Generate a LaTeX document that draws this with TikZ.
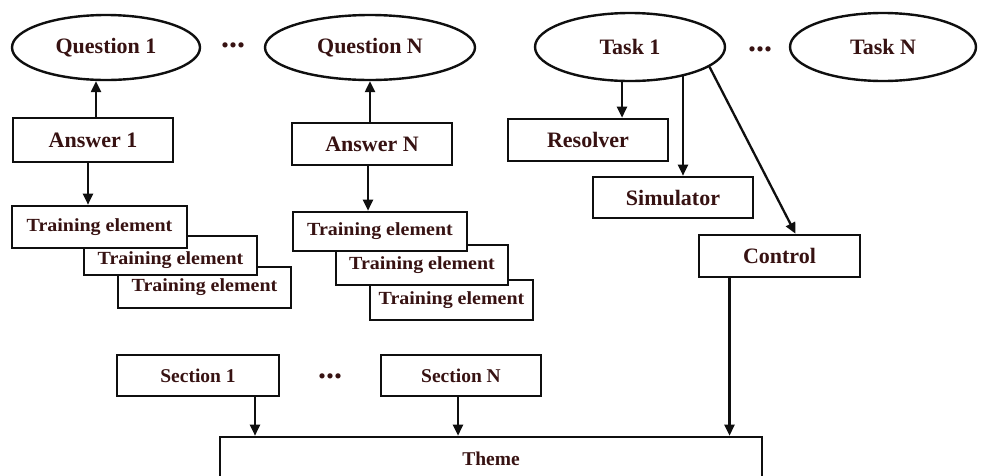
\documentclass[tikz,border=0pt]{standalone}
\usepackage{fontspec}
\setmainfont{Liberation Serif}
\newfontfamily\tefont[FakeStretch=1.08]{Liberation Serif}
\usetikzlibrary{shapes.geometric,arrows.meta}
\definecolor{txt}{RGB}{55,18,18}
\definecolor{ln}{RGB}{15,15,15}
\tikzset{
  ell/.style={ellipse,draw=ln,line width=2.4pt,inner sep=0pt,text=txt,font=\fontsize{22}{26}\selectfont\bfseries},
  bx/.style={rectangle,draw=ln,line width=2.6pt,fill=white,inner sep=0pt,text=txt,font=\fontsize{22}{26}\selectfont\bfseries},
  tbx/.style={bx,font=\tefont\fontsize{18.5}{22}\selectfont\bfseries},
  sbx/.style={bx,font=\fontsize{19.5}{22}\selectfont\bfseries},
  dots/.style={inner sep=0pt,text=txt,font=\fontsize{32}{32}\selectfont\bfseries},
  arr/.style={draw=ln,line width=2.3pt,-{Triangle[length=11pt,width=10pt]}}
}
\begin{document}
\begin{tikzpicture}[x=1pt,y=-1pt]
\clip (0,0) rectangle (981,475);
\fill[white] (0,0) rectangle (981,475);
% ellipses
\node[ell,minimum width=188pt,minimum height=65pt] (q1) at (106,47.5) {Question 1};
\node[dots] (d1) at (233,45) {...};
\node[ell,minimum width=210pt,minimum height=65pt] (qn) at (370,47.5) {Question N};
\node[ell,minimum width=190pt,minimum height=68pt] (t1) at (630,47) {Task 1};
\node[dots] (d2) at (760,49) {...};
\node[ell,minimum width=186pt,minimum height=68pt] (tn) at (883,47) {Task N};
% answers
\node[bx,minimum width=160pt,minimum height=44pt] (a1) at (93,140) {Answer 1};
\node[bx,minimum width=160pt,minimum height=42pt] (an) at (372,144) {Answer N};
% task children
\node[bx,minimum width=160pt,minimum height=42pt] (res) at (588,140) {Resolver};
\node[bx,minimum width=160pt,minimum height=41pt] (sim) at (673,197.5) {Simulator};
\node[bx,minimum width=161pt,minimum height=42pt] (ctl) at (779.5,256) {Control};
% training elements (left)
\node[tbx,minimum width=173pt,minimum height=41pt] (tl3) at (204.5,287.5) {Training element};
\node[tbx,minimum width=173pt,minimum height=39pt,text height=21pt,text depth=3pt] (tl2) at (170.5,255.5) {Training element};
\node[tbx,minimum width=175pt,minimum height=42pt] (tl1) at (99.5,227) {Training element};
% training elements (right)
\node[tbx,minimum width=163pt,minimum height=40pt] (tr3) at (451.5,300) {Training element};
\node[tbx,minimum width=172pt,minimum height=40pt] (tr2) at (422,265) {Training element};
\node[tbx,minimum width=174pt,minimum height=39pt] (tr1) at (380,231.5) {Training element};
% sections and theme
\node[sbx,minimum width=162pt,minimum height=41pt] (s1) at (198,375.5) {Section 1};
\node[dots] (d3) at (330,376) {...};
\node[sbx,minimum width=160pt,minimum height=41pt] (sn) at (461,375.5) {Section N};
\node[sbx,minimum width=542pt,minimum height=43pt] (theme) at (491,458.5) {Theme};
% connectors
\draw[arr] ([xshift=3pt]a1.north) -- ([xshift=3pt]a1.north |- q1.south);
\draw[arr] ([xshift=-5pt]a1.south) -- ([xshift=-5pt]a1.south |- tl1.north);
\draw[arr] ([xshift=-2pt]an.north) -- ([xshift=-2pt]an.north |- qn.south);
\draw[arr] ([xshift=-4pt]an.south) -- ([xshift=-4pt]an.south |- tr1.north);
\draw[arr] ([xshift=-8pt]t1.south) -- ([xshift=-8pt]t1.south |- res.north);
\draw[arr] (t1.-29) -- (t1.-29 |- sim.north);
\draw[arr] (t1.-14) -- ([xshift=16pt]ctl.north);
\draw[arr] ([xshift=-50pt]ctl.south) -- ([xshift=-50pt]ctl.south |- theme.north);
\draw[arr] ([xshift=57pt]s1.south) -- ([xshift=57pt]s1.south |- theme.north);
\draw[arr] ([xshift=-3pt]sn.south) -- ([xshift=-3pt]sn.south |- theme.north);
\end{tikzpicture}
\end{document}
